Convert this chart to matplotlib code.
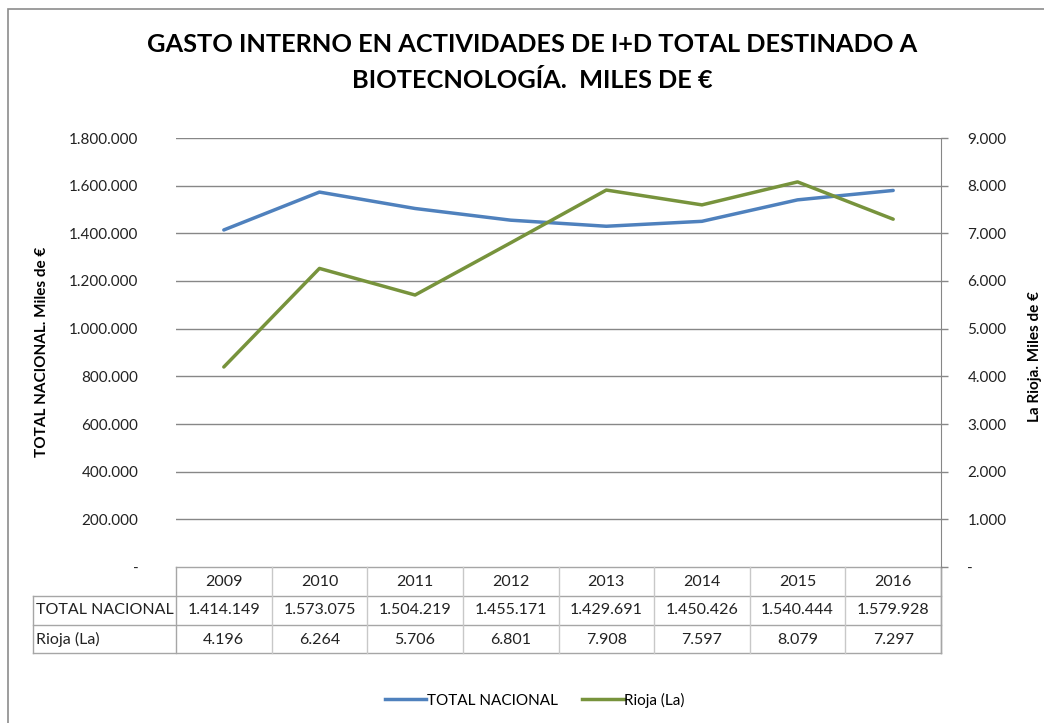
import matplotlib
matplotlib.use("Agg")
import matplotlib.pyplot as plt
import matplotlib.transforms as mtransforms
from matplotlib.lines import Line2D
from matplotlib.patches import Rectangle

years = ["2009", "2010", "2011", "2012", "2013", "2014", "2015", "2016"]
total_nacional = [1414149, 1573075, 1504219, 1455171, 1429691, 1450426, 1540444, 1579928]
rioja = [4196, 6264, 5706, 6801, 7908, 7597, 8079, 7297]
left_ticks = [0, 200000, 400000, 600000, 800000, 1000000, 1200000, 1400000, 1600000, 1800000]
right_ticks = [0, 1000, 2000, 3000, 4000, 5000, 6000, 7000, 8000, 9000]

BLUE = "#4F81BD"
GREEN = "#77933C"
FONT = "Lato"
plt.rcParams["font.family"] = [FONT, "DejaVu Sans"]

def fmt(v):
    if v == 0:
        return "-"
    return f"{int(v):,}".replace(",", ".")

W, H = 1044, 723
fig = plt.figure(figsize=(W / 100, H / 100), dpi=100)
L, R, T, B = 176, 941, 138, 567
ax = fig.add_axes([L / W, 1 - B / H, (R - L) / W, (B - T) / H])
ax2 = ax.twinx()

x = list(range(len(years)))
ax.plot(x, total_nacional, color=BLUE, lw=2.5, solid_capstyle="round", zorder=3)
ax2.plot(x, rioja, color=GREEN, lw=2.5, solid_capstyle="round", zorder=3)

ax.set_xlim(-0.5, len(years) - 0.5)
ax.set_ylim(0, 1800000)
ax2.set_ylim(0, 9000)
ax.set_yticks(left_ticks)
ax.set_yticklabels([fmt(v) for v in left_ticks])
ax2.set_yticks(right_ticks)
ax2.set_yticklabels([fmt(v) for v in right_ticks])
ax.set_xticks([])

for v in left_ticks[1:]:
    ax.axhline(v, color="#878787", lw=1.0, zorder=1)

for a in (ax, ax2):
    for s in a.spines.values():
        s.set_visible(False)
ax2.spines["right"].set_visible(True)
ax2.spines["right"].set_color("#878787")
ax2.spines["right"].set_bounds(0, 9000)

ax.tick_params(axis="y", length=0, pad=27, labelsize=11, labelcolor="#222222")
ax2.tick_params(axis="y", length=5, width=1, color="#878787", direction="out", pad=14,
                labelsize=11, labelcolor="#222222")
for t in ax.get_yticklabels() + ax2.get_yticklabels():
    t.set_fontfamily(FONT)

# Table
tr = mtransforms.blended_transform_factory(ax.transData, ax.transAxes)
tra = ax.transAxes
ph = B - T
def ay(p):
    return (B - p) / ph
x_left = (33 - L) / (R - L)
gcol = "#A6A6A6"
for p in (596, 625, 653):
    ax.add_line(Line2D([x_left, 1], [ay(p), ay(p)], transform=tra, color=gcol, lw=1, clip_on=False))
ax.add_line(Line2D([0, 1], [0, 0], transform=tra, color=gcol, lw=1, clip_on=False))
for i in range(len(years) + 1):
    ax.add_line(Line2D([i - 0.5, i - 0.5], [0, ay(653)], transform=tr,
                       color="#C8C8C8" if 0 < i < len(years) else gcol, lw=1, clip_on=False))
ax.add_line(Line2D([x_left, x_left], [ay(596), ay(653)], transform=tra, color=gcol, lw=1, clip_on=False))
ax.add_line(Line2D([1, 1], [0, ay(653)], transform=tra, color=gcol, lw=1, clip_on=False))

tfs = 11.5
for i, yv in enumerate(years):
    ax.text(i, ay(581.5), yv, transform=tr, ha="center", va="center", fontsize=tfs, color="#222222")
    ax.text(i, ay(610.5), fmt(total_nacional[i]), transform=tr, ha="center", va="center", fontsize=tfs, color="#222222")
    ax.text(i, ay(639.5), fmt(rioja[i]), transform=tr, ha="center", va="center", fontsize=tfs, color="#222222")
ax.text(x_left + 3 / (R - L), ay(610.5), "TOTAL NACIONAL", transform=tra, ha="left", va="center", fontsize=tfs, color="#222222")
ax.text(x_left + 3 / (R - L), ay(639.5), "Rioja (La)", transform=tra, ha="left", va="center", fontsize=tfs, color="#222222")

# Titles / labels
fig.text(532 / W, 1 - 45 / H, "GASTO INTERNO EN ACTIVIDADES DE I+D TOTAL DESTINADO A",
         ha="center", va="center", fontsize=18.3, fontweight="bold", color="black")
fig.text(532 / W, 1 - 80 / H, "BIOTECNOLOGÍA.  MILES DE €",
         ha="center", va="center", fontsize=18.3, fontweight="bold", color="black")
fig.text(42 / W, 1 - 352 / H, "TOTAL NACIONAL. Miles de €", rotation=90, ha="center", va="center",
         fontsize=11, fontweight="bold")
fig.text(1035 / W, 1 - 357 / H, "La Rioja. Miles de €", rotation=90, ha="center", va="center",
         fontsize=11, fontweight="bold")

# Legend
h1 = Line2D([], [], color=BLUE, lw=2.5)
h2 = Line2D([], [], color=GREEN, lw=2.5)
fig.legend([h1, h2], ["TOTAL NACIONAL", "Rioja (La)"], loc="center", bbox_to_anchor=(535 / W, 1 - 700 / H),
           ncol=2, frameon=False, fontsize=11, handlelength=2.7, handletextpad=0.05, columnspacing=1.6)

# Chart border
fig.patches.append(Rectangle((8 / W, -0.1), 1.2, 1 - 9 / H + 0.1, transform=fig.transFigure,
                             fill=False, edgecolor="#8C8C8C", lw=1.2, zorder=0))

fig.savefig("out.png", dpi=100)
